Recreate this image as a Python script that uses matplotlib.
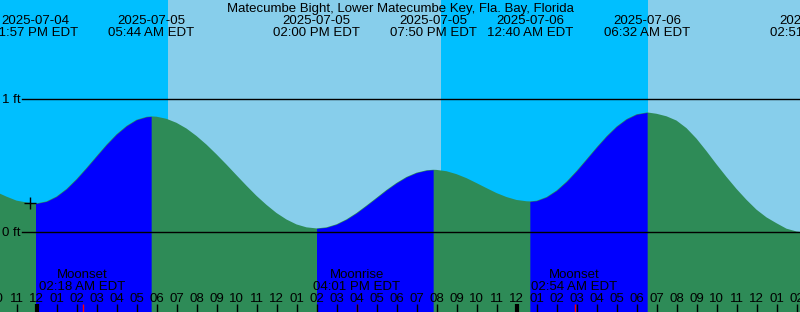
import matplotlib
matplotlib.use('Agg')
import matplotlib.pyplot as plt
import numpy as np

plt.rcParams['font.family'] = ['Liberation Sans', 'DejaVu Sans']

# hours counted from 2025-07-05 00:00 EDT
title = 'Matecumbe Bight, Lower Matecumbe Key, Fla. Bay, Florida'

curve_hours = [-2, -1.5, -1, -0.5, -0.05, 0, 0.5, 1, 1.5, 2, 2.5, 3, 3.5, 4, 4.5, 5, 5.5, 5.733,
               6, 6.5, 7, 7.5, 8, 8.5, 9, 9.5, 10, 10.5, 11, 11.5, 12, 12.5, 13, 13.5, 14,
               14.5, 15, 15.5, 16, 16.5, 17, 17.5, 18, 18.5, 19, 19.5, 19.833,
               20, 20.5, 21, 21.5, 22, 22.5, 23, 23.5, 24, 24.5, 24.667,
               25, 25.5, 26, 26.5, 27, 27.5, 28, 28.5, 29, 29.5, 30, 30.533,
               31, 31.5, 32, 32.5, 33, 33.5, 34, 34.5, 35, 35.5, 36, 36.5, 37, 37.5, 38,
               38.5, 39]
curve_ft = [0.300, 0.266, 0.236, 0.222, 0.215, 0.215, 0.230, 0.267, 0.324, 0.398, 0.482, 0.570,
            0.657, 0.735, 0.798, 0.844, 0.866, 0.869,
            0.867, 0.851, 0.821, 0.778, 0.722, 0.657, 0.584, 0.507, 0.427, 0.348, 0.272, 0.204,
            0.143, 0.094, 0.057, 0.035, 0.027,
            0.035, 0.058, 0.095, 0.143, 0.199, 0.257, 0.316, 0.369, 0.414, 0.446, 0.464, 0.468,
            0.467, 0.457, 0.435, 0.405, 0.368, 0.330, 0.293, 0.263, 0.241, 0.231, 0.230,
            0.235, 0.263, 0.312, 0.379, 0.459, 0.547, 0.636, 0.720, 0.793, 0.849, 0.885, 0.899,
            0.889, 0.870, 0.838, 0.781, 0.702, 0.608, 0.509, 0.414, 0.324, 0.242, 0.168, 0.110,
            0.066, 0.025, 0.004, -0.005, -0.010]

event_hours = [-0.05, 5.733, 14.0, 19.833, 24.667, 30.533, 38.85]
event_dates = ['2025-07-04', '2025-07-05', '2025-07-05', '2025-07-05', '2025-07-06',
               '2025-07-06', '2025-07-06']
event_times = ['11:57 PM EDT', '05:44 AM EDT', '02:00 PM EDT', '07:50 PM EDT',
               '12:40 AM EDT', '06:32 AM EDT', '02:51 PM EDT']
event_kind = ['low', 'high', 'low', 'high', 'low', 'high', 'low']

sunrise = [6.58, 30.58]
sunset = [20.23]

moon_hours = [2.3, 16.017, 26.9]
moon_names = ['Moonset', 'Moonrise', 'Moonset']
moon_times = ['02:18 AM EDT', '04:01 PM EDT', '02:54 AM EDT']

hour_ticks = list(range(-2, 39))

x0, x1 = -1.825, 38.175
y0, y1 = -80 / 133, 232 / 133
fs = 9.5

fig = plt.figure(figsize=(8, 3.12), dpi=100)
ax = fig.add_axes([0, 0, 1, 1])
ax.set_xlim(x0, x1)
ax.set_ylim(y0, y1)
ax.axis('off')

# night / day background
ax.axvspan(x0, x1, color='#00BFFF', lw=0)
ax.axvspan(sunrise[0], sunset[0], color='#87CEEB', lw=0)
ax.axvspan(sunrise[1], x1, color='#87CEEB', lw=0)

h = np.array(curve_hours)
ft = np.array(curve_ft)
ax.fill_between(h, y0, ft, color='#2E8B57', lw=0)
for i in range(len(event_hours) - 1):
    if event_kind[i] == 'low':
        m = (h >= event_hours[i]) & (h <= event_hours[i + 1])
        ax.fill_between(h[m], y0, ft[m], color='#0000FF', lw=0)

# level lines
xt = ax.get_yaxis_transform()
for lvl in [0, 1]:
    ax.axhline(lvl, xmin=22 / 800, xmax=1, color='black', lw=1)
    ax.text(2 / 800, lvl - 4 / 133, '%d ft' % lvl, transform=xt, fontsize=fs,
            ha='left', va='baseline')

ax.plot([-0.35], [0.215], marker='+', color='black', ms=9, mew=1)

# top labels
ax.text(0.5, 1 - 12 / 312, title, transform=ax.transAxes, fontsize=fs,
        ha='center', va='baseline')
tt = ax.get_xaxis_transform()
for eh, d, t in zip(event_hours, event_dates, event_times):
    ax.text(eh, 1 - 24 / 312, d, transform=tt, fontsize=fs, ha='center', va='baseline')
    ax.text(eh, 1 - 36 / 312, t, transform=tt, fontsize=fs, ha='center', va='baseline')

# moon events
for mh, n, t in zip(moon_hours, moon_names, moon_times):
    ax.text(mh, 34 / 312, n, transform=tt, fontsize=fs, ha='center', va='baseline')
    ax.text(mh, 22 / 312, t, transform=tt, fontsize=fs, ha='center', va='baseline')
    ax.vlines(mh, 0, 8 / 312, transform=tt, color='red', lw=1)

# hour ticks
for hr in hour_ticks:
    lab = '%02d' % (((hr % 12) or 12))
    ax.text(hr, 10.3 / 312, lab, transform=tt, fontsize=fs, ha='center', va='baseline')
    ax.vlines(hr, 0, 8 / 312, transform=tt, color='black', lw=3 if hr % 24 == 0 else 1)

fig.savefig('out.png', dpi=100)
